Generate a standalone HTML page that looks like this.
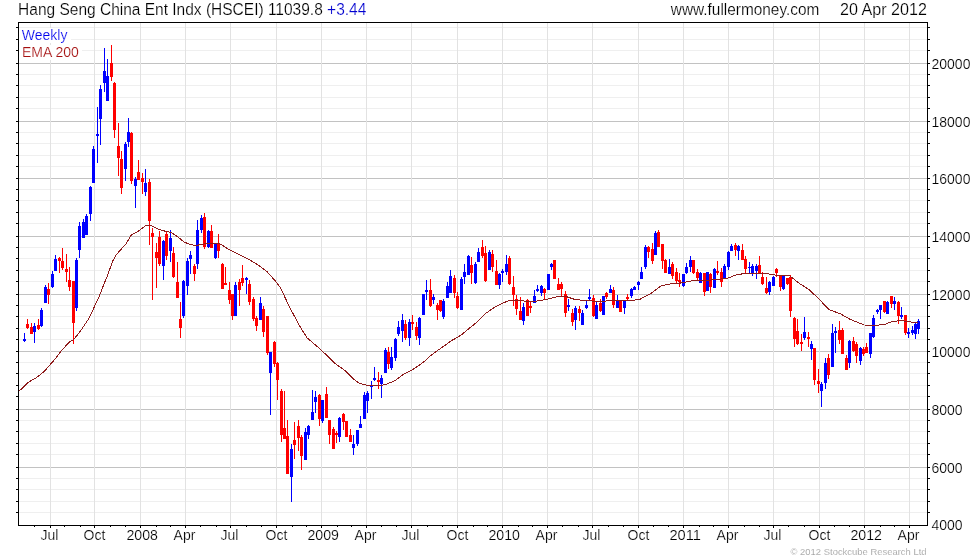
<!DOCTYPE html><html><head><meta charset="utf-8"><title>HSCEI Weekly</title>
<style>html,body{margin:0;padding:0;background:#fff}svg{display:block}text{font-family:"Liberation Sans",sans-serif;stroke:#fff;stroke-width:0.2px;paint-order:fill stroke}</style></head><body>
<svg width="980" height="560" viewBox="0 0 980 560">
<rect width="980" height="560" fill="#fff"/>
<g shape-rendering="crispEdges">
<rect x="19" y="27" width="908" height="1" fill="#efefef"/>
<rect x="16" y="27" width="2" height="1" fill="#000"/>
<rect x="928" y="27" width="2" height="1" fill="#000"/>
<rect x="19" y="39" width="908" height="1" fill="#efefef"/>
<rect x="16" y="39" width="2" height="1" fill="#000"/>
<rect x="928" y="39" width="2" height="1" fill="#000"/>
<rect x="19" y="50" width="908" height="1" fill="#efefef"/>
<rect x="16" y="50" width="2" height="1" fill="#000"/>
<rect x="928" y="50" width="2" height="1" fill="#000"/>
<rect x="19" y="63" width="908" height="1" fill="#c2c2c2"/>
<rect x="16" y="63" width="2" height="1" fill="#000"/>
<rect x="928" y="63" width="2" height="1" fill="#000"/>
<rect x="19" y="74" width="908" height="1" fill="#efefef"/>
<rect x="16" y="74" width="2" height="1" fill="#000"/>
<rect x="928" y="74" width="2" height="1" fill="#000"/>
<rect x="19" y="85" width="908" height="1" fill="#efefef"/>
<rect x="16" y="85" width="2" height="1" fill="#000"/>
<rect x="928" y="85" width="2" height="1" fill="#000"/>
<rect x="19" y="97" width="908" height="1" fill="#efefef"/>
<rect x="16" y="97" width="2" height="1" fill="#000"/>
<rect x="928" y="97" width="2" height="1" fill="#000"/>
<rect x="19" y="108" width="908" height="1" fill="#efefef"/>
<rect x="16" y="108" width="2" height="1" fill="#000"/>
<rect x="928" y="108" width="2" height="1" fill="#000"/>
<rect x="19" y="121" width="908" height="1" fill="#c2c2c2"/>
<rect x="16" y="121" width="2" height="1" fill="#000"/>
<rect x="928" y="121" width="2" height="1" fill="#000"/>
<rect x="19" y="132" width="908" height="1" fill="#efefef"/>
<rect x="16" y="132" width="2" height="1" fill="#000"/>
<rect x="928" y="132" width="2" height="1" fill="#000"/>
<rect x="19" y="143" width="908" height="1" fill="#efefef"/>
<rect x="16" y="143" width="2" height="1" fill="#000"/>
<rect x="928" y="143" width="2" height="1" fill="#000"/>
<rect x="19" y="155" width="908" height="1" fill="#efefef"/>
<rect x="16" y="155" width="2" height="1" fill="#000"/>
<rect x="928" y="155" width="2" height="1" fill="#000"/>
<rect x="19" y="166" width="908" height="1" fill="#efefef"/>
<rect x="16" y="166" width="2" height="1" fill="#000"/>
<rect x="928" y="166" width="2" height="1" fill="#000"/>
<rect x="19" y="178" width="908" height="1" fill="#c2c2c2"/>
<rect x="16" y="178" width="2" height="1" fill="#000"/>
<rect x="928" y="178" width="2" height="1" fill="#000"/>
<rect x="19" y="189" width="908" height="1" fill="#efefef"/>
<rect x="16" y="189" width="2" height="1" fill="#000"/>
<rect x="928" y="189" width="2" height="1" fill="#000"/>
<rect x="19" y="200" width="908" height="1" fill="#efefef"/>
<rect x="16" y="200" width="2" height="1" fill="#000"/>
<rect x="928" y="200" width="2" height="1" fill="#000"/>
<rect x="19" y="212" width="908" height="1" fill="#efefef"/>
<rect x="16" y="212" width="2" height="1" fill="#000"/>
<rect x="928" y="212" width="2" height="1" fill="#000"/>
<rect x="19" y="223" width="908" height="1" fill="#efefef"/>
<rect x="16" y="223" width="2" height="1" fill="#000"/>
<rect x="928" y="223" width="2" height="1" fill="#000"/>
<rect x="19" y="236" width="908" height="1" fill="#c2c2c2"/>
<rect x="16" y="236" width="2" height="1" fill="#000"/>
<rect x="928" y="236" width="2" height="1" fill="#000"/>
<rect x="19" y="247" width="908" height="1" fill="#efefef"/>
<rect x="16" y="247" width="2" height="1" fill="#000"/>
<rect x="928" y="247" width="2" height="1" fill="#000"/>
<rect x="19" y="258" width="908" height="1" fill="#efefef"/>
<rect x="16" y="258" width="2" height="1" fill="#000"/>
<rect x="928" y="258" width="2" height="1" fill="#000"/>
<rect x="19" y="270" width="908" height="1" fill="#efefef"/>
<rect x="16" y="270" width="2" height="1" fill="#000"/>
<rect x="928" y="270" width="2" height="1" fill="#000"/>
<rect x="19" y="281" width="908" height="1" fill="#efefef"/>
<rect x="16" y="281" width="2" height="1" fill="#000"/>
<rect x="928" y="281" width="2" height="1" fill="#000"/>
<rect x="19" y="294" width="908" height="1" fill="#c2c2c2"/>
<rect x="16" y="294" width="2" height="1" fill="#000"/>
<rect x="928" y="294" width="2" height="1" fill="#000"/>
<rect x="19" y="305" width="908" height="1" fill="#efefef"/>
<rect x="16" y="305" width="2" height="1" fill="#000"/>
<rect x="928" y="305" width="2" height="1" fill="#000"/>
<rect x="19" y="316" width="908" height="1" fill="#efefef"/>
<rect x="16" y="316" width="2" height="1" fill="#000"/>
<rect x="928" y="316" width="2" height="1" fill="#000"/>
<rect x="19" y="328" width="908" height="1" fill="#efefef"/>
<rect x="16" y="328" width="2" height="1" fill="#000"/>
<rect x="928" y="328" width="2" height="1" fill="#000"/>
<rect x="19" y="339" width="908" height="1" fill="#efefef"/>
<rect x="16" y="339" width="2" height="1" fill="#000"/>
<rect x="928" y="339" width="2" height="1" fill="#000"/>
<rect x="19" y="351" width="908" height="1" fill="#c2c2c2"/>
<rect x="16" y="351" width="2" height="1" fill="#000"/>
<rect x="928" y="351" width="2" height="1" fill="#000"/>
<rect x="19" y="362" width="908" height="1" fill="#efefef"/>
<rect x="16" y="362" width="2" height="1" fill="#000"/>
<rect x="928" y="362" width="2" height="1" fill="#000"/>
<rect x="19" y="373" width="908" height="1" fill="#efefef"/>
<rect x="16" y="373" width="2" height="1" fill="#000"/>
<rect x="928" y="373" width="2" height="1" fill="#000"/>
<rect x="19" y="385" width="908" height="1" fill="#efefef"/>
<rect x="16" y="385" width="2" height="1" fill="#000"/>
<rect x="928" y="385" width="2" height="1" fill="#000"/>
<rect x="19" y="396" width="908" height="1" fill="#efefef"/>
<rect x="16" y="396" width="2" height="1" fill="#000"/>
<rect x="928" y="396" width="2" height="1" fill="#000"/>
<rect x="19" y="409" width="908" height="1" fill="#c2c2c2"/>
<rect x="16" y="409" width="2" height="1" fill="#000"/>
<rect x="928" y="409" width="2" height="1" fill="#000"/>
<rect x="19" y="420" width="908" height="1" fill="#efefef"/>
<rect x="16" y="420" width="2" height="1" fill="#000"/>
<rect x="928" y="420" width="2" height="1" fill="#000"/>
<rect x="19" y="431" width="908" height="1" fill="#efefef"/>
<rect x="16" y="431" width="2" height="1" fill="#000"/>
<rect x="928" y="431" width="2" height="1" fill="#000"/>
<rect x="19" y="443" width="908" height="1" fill="#efefef"/>
<rect x="16" y="443" width="2" height="1" fill="#000"/>
<rect x="928" y="443" width="2" height="1" fill="#000"/>
<rect x="19" y="454" width="908" height="1" fill="#efefef"/>
<rect x="16" y="454" width="2" height="1" fill="#000"/>
<rect x="928" y="454" width="2" height="1" fill="#000"/>
<rect x="19" y="467" width="908" height="1" fill="#c2c2c2"/>
<rect x="16" y="467" width="2" height="1" fill="#000"/>
<rect x="928" y="467" width="2" height="1" fill="#000"/>
<rect x="19" y="478" width="908" height="1" fill="#efefef"/>
<rect x="16" y="478" width="2" height="1" fill="#000"/>
<rect x="928" y="478" width="2" height="1" fill="#000"/>
<rect x="19" y="489" width="908" height="1" fill="#efefef"/>
<rect x="16" y="489" width="2" height="1" fill="#000"/>
<rect x="928" y="489" width="2" height="1" fill="#000"/>
<rect x="19" y="501" width="908" height="1" fill="#efefef"/>
<rect x="16" y="501" width="2" height="1" fill="#000"/>
<rect x="928" y="501" width="2" height="1" fill="#000"/>
<rect x="19" y="512" width="908" height="1" fill="#efefef"/>
<rect x="16" y="512" width="2" height="1" fill="#000"/>
<rect x="928" y="512" width="2" height="1" fill="#000"/>
<rect x="50" y="23" width="1" height="502" fill="#e2e2e2"/>
<rect x="94" y="23" width="1" height="502" fill="#e2e2e2"/>
<rect x="140" y="23" width="1" height="502" fill="#e2e2e2"/>
<rect x="185" y="23" width="1" height="502" fill="#e2e2e2"/>
<rect x="230" y="23" width="1" height="502" fill="#e2e2e2"/>
<rect x="276" y="23" width="1" height="502" fill="#e2e2e2"/>
<rect x="321" y="23" width="1" height="502" fill="#e2e2e2"/>
<rect x="366" y="23" width="1" height="502" fill="#e2e2e2"/>
<rect x="411" y="23" width="1" height="502" fill="#e2e2e2"/>
<rect x="457" y="23" width="1" height="502" fill="#e2e2e2"/>
<rect x="502" y="23" width="1" height="502" fill="#e2e2e2"/>
<rect x="547" y="23" width="1" height="502" fill="#e2e2e2"/>
<rect x="592" y="23" width="1" height="502" fill="#e2e2e2"/>
<rect x="638" y="23" width="1" height="502" fill="#e2e2e2"/>
<rect x="683" y="23" width="1" height="502" fill="#e2e2e2"/>
<rect x="728" y="23" width="1" height="502" fill="#e2e2e2"/>
<rect x="773" y="23" width="1" height="502" fill="#e2e2e2"/>
<rect x="819" y="23" width="1" height="502" fill="#e2e2e2"/>
<rect x="864" y="23" width="1" height="502" fill="#e2e2e2"/>
<rect x="909" y="23" width="1" height="502" fill="#e2e2e2"/>
<rect x="34" y="526" width="1" height="1" fill="#000"/>
<rect x="50" y="526" width="1" height="2" fill="#000"/>
<rect x="64" y="526" width="1" height="1" fill="#000"/>
<rect x="80" y="526" width="1" height="1" fill="#000"/>
<rect x="94" y="526" width="1" height="2" fill="#000"/>
<rect x="110" y="526" width="1" height="1" fill="#000"/>
<rect x="125" y="526" width="1" height="1" fill="#000"/>
<rect x="140" y="526" width="1" height="2" fill="#000"/>
<rect x="156" y="526" width="1" height="1" fill="#000"/>
<rect x="170" y="526" width="1" height="1" fill="#000"/>
<rect x="185" y="526" width="1" height="2" fill="#000"/>
<rect x="200" y="526" width="1" height="1" fill="#000"/>
<rect x="216" y="526" width="1" height="1" fill="#000"/>
<rect x="230" y="526" width="1" height="2" fill="#000"/>
<rect x="246" y="526" width="1" height="1" fill="#000"/>
<rect x="261" y="526" width="1" height="1" fill="#000"/>
<rect x="276" y="526" width="1" height="2" fill="#000"/>
<rect x="292" y="526" width="1" height="1" fill="#000"/>
<rect x="306" y="526" width="1" height="1" fill="#000"/>
<rect x="321" y="526" width="1" height="2" fill="#000"/>
<rect x="337" y="526" width="1" height="1" fill="#000"/>
<rect x="351" y="526" width="1" height="1" fill="#000"/>
<rect x="366" y="526" width="1" height="2" fill="#000"/>
<rect x="381" y="526" width="1" height="1" fill="#000"/>
<rect x="396" y="526" width="1" height="1" fill="#000"/>
<rect x="411" y="526" width="1" height="2" fill="#000"/>
<rect x="427" y="526" width="1" height="1" fill="#000"/>
<rect x="442" y="526" width="1" height="1" fill="#000"/>
<rect x="457" y="526" width="1" height="2" fill="#000"/>
<rect x="473" y="526" width="1" height="1" fill="#000"/>
<rect x="487" y="526" width="1" height="1" fill="#000"/>
<rect x="502" y="526" width="1" height="2" fill="#000"/>
<rect x="518" y="526" width="1" height="1" fill="#000"/>
<rect x="532" y="526" width="1" height="1" fill="#000"/>
<rect x="547" y="526" width="1" height="2" fill="#000"/>
<rect x="562" y="526" width="1" height="1" fill="#000"/>
<rect x="578" y="526" width="1" height="1" fill="#000"/>
<rect x="592" y="526" width="1" height="2" fill="#000"/>
<rect x="608" y="526" width="1" height="1" fill="#000"/>
<rect x="623" y="526" width="1" height="1" fill="#000"/>
<rect x="638" y="526" width="1" height="2" fill="#000"/>
<rect x="653" y="526" width="1" height="1" fill="#000"/>
<rect x="668" y="526" width="1" height="1" fill="#000"/>
<rect x="683" y="526" width="1" height="2" fill="#000"/>
<rect x="699" y="526" width="1" height="1" fill="#000"/>
<rect x="713" y="526" width="1" height="1" fill="#000"/>
<rect x="728" y="526" width="1" height="2" fill="#000"/>
<rect x="744" y="526" width="1" height="1" fill="#000"/>
<rect x="759" y="526" width="1" height="1" fill="#000"/>
<rect x="773" y="526" width="1" height="2" fill="#000"/>
<rect x="788" y="526" width="1" height="1" fill="#000"/>
<rect x="804" y="526" width="1" height="1" fill="#000"/>
<rect x="819" y="526" width="1" height="2" fill="#000"/>
<rect x="834" y="526" width="1" height="1" fill="#000"/>
<rect x="849" y="526" width="1" height="1" fill="#000"/>
<rect x="864" y="526" width="1" height="2" fill="#000"/>
<rect x="880" y="526" width="1" height="1" fill="#000"/>
<rect x="894" y="526" width="1" height="1" fill="#000"/>
<rect x="909" y="526" width="1" height="2" fill="#000"/>
</g>
<g shape-rendering="crispEdges">
<rect x="24" y="333" width="1" height="9" fill="#0000ff"/>
<rect x="23" y="339" width="3" height="2" fill="#0000ff"/>
<rect x="27" y="319" width="1" height="10" fill="#ff0000"/>
<rect x="26" y="324" width="3" height="4" fill="#ff0000"/>
<rect x="31" y="323" width="1" height="11" fill="#ff0000"/>
<rect x="30" y="327" width="3" height="7" fill="#ff0000"/>
<rect x="34" y="323" width="1" height="20" fill="#0000ff"/>
<rect x="33" y="326" width="3" height="6" fill="#0000ff"/>
<rect x="38" y="319" width="1" height="11" fill="#ff0000"/>
<rect x="37" y="325" width="3" height="4" fill="#ff0000"/>
<rect x="41" y="308" width="1" height="19" fill="#0000ff"/>
<rect x="40" y="310" width="3" height="16" fill="#0000ff"/>
<rect x="45" y="285" width="1" height="18" fill="#0000ff"/>
<rect x="44" y="287" width="3" height="16" fill="#0000ff"/>
<rect x="48" y="283" width="1" height="21" fill="#ff0000"/>
<rect x="47" y="289" width="3" height="6" fill="#ff0000"/>
<rect x="52" y="271" width="1" height="17" fill="#0000ff"/>
<rect x="51" y="274" width="3" height="13" fill="#0000ff"/>
<rect x="55" y="255" width="1" height="16" fill="#0000ff"/>
<rect x="54" y="259" width="3" height="12" fill="#0000ff"/>
<rect x="59" y="257" width="1" height="16" fill="#ff0000"/>
<rect x="58" y="258" width="3" height="3" fill="#ff0000"/>
<rect x="62" y="248" width="1" height="22" fill="#ff0000"/>
<rect x="61" y="261" width="3" height="7" fill="#ff0000"/>
<rect x="66" y="254" width="1" height="28" fill="#ff0000"/>
<rect x="65" y="269" width="3" height="3" fill="#ff0000"/>
<rect x="69" y="267" width="1" height="24" fill="#ff0000"/>
<rect x="68" y="280" width="3" height="7" fill="#ff0000"/>
<rect x="73" y="281" width="1" height="63" fill="#ff0000"/>
<rect x="72" y="281" width="3" height="42" fill="#ff0000"/>
<rect x="76" y="258" width="1" height="53" fill="#0000ff"/>
<rect x="75" y="260" width="3" height="48" fill="#0000ff"/>
<rect x="79" y="222" width="1" height="36" fill="#0000ff"/>
<rect x="78" y="226" width="3" height="24" fill="#0000ff"/>
<rect x="83" y="219" width="1" height="19" fill="#0000ff"/>
<rect x="82" y="222" width="3" height="16" fill="#0000ff"/>
<rect x="86" y="214" width="1" height="21" fill="#0000ff"/>
<rect x="85" y="216" width="3" height="19" fill="#0000ff"/>
<rect x="90" y="186" width="1" height="35" fill="#0000ff"/>
<rect x="89" y="187" width="3" height="27" fill="#0000ff"/>
<rect x="93" y="146" width="1" height="37" fill="#0000ff"/>
<rect x="92" y="149" width="3" height="34" fill="#0000ff"/>
<rect x="97" y="107" width="1" height="56" fill="#0000ff"/>
<rect x="96" y="134" width="3" height="2" fill="#0000ff"/>
<rect x="100" y="85" width="1" height="60" fill="#0000ff"/>
<rect x="99" y="89" width="3" height="30" fill="#0000ff"/>
<rect x="104" y="48" width="1" height="44" fill="#0000ff"/>
<rect x="103" y="71" width="3" height="12" fill="#0000ff"/>
<rect x="107" y="59" width="1" height="42" fill="#0000ff"/>
<rect x="106" y="76" width="3" height="25" fill="#0000ff"/>
<rect x="111" y="45" width="1" height="36" fill="#ff0000"/>
<rect x="110" y="63" width="3" height="14" fill="#ff0000"/>
<rect x="114" y="82" width="1" height="56" fill="#ff0000"/>
<rect x="113" y="83" width="3" height="47" fill="#ff0000"/>
<rect x="118" y="123" width="1" height="53" fill="#ff0000"/>
<rect x="117" y="146" width="3" height="12" fill="#ff0000"/>
<rect x="121" y="151" width="1" height="43" fill="#ff0000"/>
<rect x="120" y="159" width="3" height="29" fill="#ff0000"/>
<rect x="125" y="142" width="1" height="39" fill="#0000ff"/>
<rect x="124" y="144" width="3" height="25" fill="#0000ff"/>
<rect x="128" y="118" width="1" height="29" fill="#0000ff"/>
<rect x="127" y="132" width="3" height="10" fill="#0000ff"/>
<rect x="131" y="132" width="1" height="52" fill="#ff0000"/>
<rect x="130" y="133" width="3" height="48" fill="#ff0000"/>
<rect x="135" y="177" width="1" height="31" fill="#0000ff"/>
<rect x="134" y="179" width="3" height="7" fill="#0000ff"/>
<rect x="138" y="160" width="1" height="20" fill="#ff0000"/>
<rect x="137" y="172" width="3" height="8" fill="#ff0000"/>
<rect x="142" y="173" width="1" height="21" fill="#ff0000"/>
<rect x="141" y="178" width="3" height="4" fill="#ff0000"/>
<rect x="145" y="169" width="1" height="27" fill="#0000ff"/>
<rect x="144" y="183" width="3" height="9" fill="#0000ff"/>
<rect x="149" y="179" width="1" height="66" fill="#ff0000"/>
<rect x="148" y="182" width="3" height="39" fill="#ff0000"/>
<rect x="152" y="228" width="1" height="72" fill="#ff0000"/>
<rect x="151" y="233" width="3" height="4" fill="#ff0000"/>
<rect x="156" y="243" width="1" height="45" fill="#ff0000"/>
<rect x="155" y="252" width="3" height="6" fill="#ff0000"/>
<rect x="159" y="231" width="1" height="35" fill="#ff0000"/>
<rect x="158" y="237" width="3" height="27" fill="#ff0000"/>
<rect x="163" y="240" width="1" height="40" fill="#0000ff"/>
<rect x="162" y="241" width="3" height="25" fill="#0000ff"/>
<rect x="166" y="232" width="1" height="28" fill="#ff0000"/>
<rect x="165" y="234" width="3" height="22" fill="#ff0000"/>
<rect x="170" y="230" width="1" height="32" fill="#0000ff"/>
<rect x="169" y="238" width="3" height="13" fill="#0000ff"/>
<rect x="173" y="247" width="1" height="31" fill="#ff0000"/>
<rect x="172" y="253" width="3" height="24" fill="#ff0000"/>
<rect x="177" y="262" width="1" height="36" fill="#ff0000"/>
<rect x="176" y="282" width="3" height="16" fill="#ff0000"/>
<rect x="180" y="302" width="1" height="36" fill="#ff0000"/>
<rect x="179" y="319" width="3" height="9" fill="#ff0000"/>
<rect x="183" y="280" width="1" height="38" fill="#0000ff"/>
<rect x="182" y="281" width="3" height="35" fill="#0000ff"/>
<rect x="187" y="258" width="1" height="37" fill="#0000ff"/>
<rect x="186" y="261" width="3" height="25" fill="#0000ff"/>
<rect x="190" y="251" width="1" height="23" fill="#0000ff"/>
<rect x="189" y="255" width="3" height="4" fill="#0000ff"/>
<rect x="194" y="264" width="1" height="17" fill="#ff0000"/>
<rect x="193" y="266" width="3" height="8" fill="#ff0000"/>
<rect x="197" y="220" width="1" height="49" fill="#0000ff"/>
<rect x="196" y="230" width="3" height="34" fill="#0000ff"/>
<rect x="201" y="215" width="1" height="18" fill="#0000ff"/>
<rect x="200" y="218" width="3" height="12" fill="#0000ff"/>
<rect x="204" y="213" width="1" height="36" fill="#ff0000"/>
<rect x="203" y="217" width="3" height="30" fill="#ff0000"/>
<rect x="208" y="230" width="1" height="18" fill="#0000ff"/>
<rect x="207" y="231" width="3" height="16" fill="#0000ff"/>
<rect x="211" y="225" width="1" height="23" fill="#ff0000"/>
<rect x="210" y="231" width="3" height="17" fill="#ff0000"/>
<rect x="215" y="243" width="1" height="16" fill="#0000ff"/>
<rect x="214" y="244" width="3" height="14" fill="#0000ff"/>
<rect x="218" y="234" width="1" height="24" fill="#ff0000"/>
<rect x="217" y="243" width="3" height="8" fill="#ff0000"/>
<rect x="222" y="263" width="1" height="26" fill="#ff0000"/>
<rect x="221" y="264" width="3" height="25" fill="#ff0000"/>
<rect x="225" y="267" width="1" height="18" fill="#ff0000"/>
<rect x="224" y="283" width="3" height="2" fill="#ff0000"/>
<rect x="229" y="282" width="1" height="22" fill="#ff0000"/>
<rect x="228" y="290" width="3" height="10" fill="#ff0000"/>
<rect x="232" y="294" width="1" height="26" fill="#ff0000"/>
<rect x="231" y="294" width="3" height="22" fill="#ff0000"/>
<rect x="235" y="282" width="1" height="34" fill="#0000ff"/>
<rect x="234" y="285" width="3" height="31" fill="#0000ff"/>
<rect x="239" y="279" width="1" height="27" fill="#ff0000"/>
<rect x="238" y="282" width="3" height="8" fill="#ff0000"/>
<rect x="242" y="265" width="1" height="21" fill="#ff0000"/>
<rect x="241" y="278" width="3" height="5" fill="#ff0000"/>
<rect x="246" y="277" width="1" height="17" fill="#0000ff"/>
<rect x="245" y="278" width="3" height="2" fill="#0000ff"/>
<rect x="249" y="280" width="1" height="25" fill="#ff0000"/>
<rect x="248" y="284" width="3" height="18" fill="#ff0000"/>
<rect x="253" y="297" width="1" height="24" fill="#ff0000"/>
<rect x="252" y="299" width="3" height="20" fill="#ff0000"/>
<rect x="256" y="316" width="1" height="15" fill="#ff0000"/>
<rect x="255" y="318" width="3" height="8" fill="#ff0000"/>
<rect x="260" y="297" width="1" height="23" fill="#0000ff"/>
<rect x="259" y="303" width="3" height="17" fill="#0000ff"/>
<rect x="263" y="306" width="1" height="31" fill="#ff0000"/>
<rect x="262" y="309" width="3" height="23" fill="#ff0000"/>
<rect x="267" y="316" width="1" height="39" fill="#ff0000"/>
<rect x="266" y="316" width="3" height="37" fill="#ff0000"/>
<rect x="270" y="352" width="1" height="63" fill="#0000ff"/>
<rect x="269" y="352" width="3" height="21" fill="#0000ff"/>
<rect x="274" y="341" width="1" height="26" fill="#ff0000"/>
<rect x="273" y="342" width="3" height="22" fill="#ff0000"/>
<rect x="277" y="362" width="1" height="38" fill="#ff0000"/>
<rect x="276" y="363" width="3" height="17" fill="#ff0000"/>
<rect x="281" y="389" width="1" height="53" fill="#ff0000"/>
<rect x="280" y="391" width="3" height="44" fill="#ff0000"/>
<rect x="284" y="391" width="1" height="48" fill="#ff0000"/>
<rect x="283" y="428" width="3" height="11" fill="#ff0000"/>
<rect x="287" y="420" width="1" height="54" fill="#ff0000"/>
<rect x="286" y="436" width="3" height="38" fill="#ff0000"/>
<rect x="291" y="444" width="1" height="58" fill="#0000ff"/>
<rect x="290" y="449" width="3" height="28" fill="#0000ff"/>
<rect x="294" y="422" width="1" height="37" fill="#ff0000"/>
<rect x="293" y="440" width="3" height="5" fill="#ff0000"/>
<rect x="298" y="420" width="1" height="31" fill="#ff0000"/>
<rect x="297" y="426" width="3" height="12" fill="#ff0000"/>
<rect x="301" y="435" width="1" height="35" fill="#ff0000"/>
<rect x="300" y="437" width="3" height="19" fill="#ff0000"/>
<rect x="305" y="428" width="1" height="32" fill="#0000ff"/>
<rect x="304" y="432" width="3" height="28" fill="#0000ff"/>
<rect x="308" y="425" width="1" height="14" fill="#0000ff"/>
<rect x="307" y="426" width="3" height="9" fill="#0000ff"/>
<rect x="312" y="390" width="1" height="30" fill="#0000ff"/>
<rect x="311" y="412" width="3" height="8" fill="#0000ff"/>
<rect x="315" y="391" width="1" height="22" fill="#0000ff"/>
<rect x="314" y="397" width="3" height="5" fill="#0000ff"/>
<rect x="319" y="394" width="1" height="32" fill="#ff0000"/>
<rect x="318" y="395" width="3" height="24" fill="#ff0000"/>
<rect x="322" y="400" width="1" height="23" fill="#0000ff"/>
<rect x="321" y="400" width="3" height="21" fill="#0000ff"/>
<rect x="326" y="387" width="1" height="31" fill="#ff0000"/>
<rect x="325" y="394" width="3" height="24" fill="#ff0000"/>
<rect x="329" y="420" width="1" height="24" fill="#ff0000"/>
<rect x="328" y="420" width="3" height="15" fill="#ff0000"/>
<rect x="333" y="427" width="1" height="22" fill="#ff0000"/>
<rect x="332" y="429" width="3" height="20" fill="#ff0000"/>
<rect x="336" y="431" width="1" height="12" fill="#ff0000"/>
<rect x="335" y="433" width="3" height="2" fill="#ff0000"/>
<rect x="339" y="417" width="1" height="25" fill="#0000ff"/>
<rect x="338" y="418" width="3" height="19" fill="#0000ff"/>
<rect x="343" y="413" width="1" height="17" fill="#ff0000"/>
<rect x="342" y="414" width="3" height="8" fill="#ff0000"/>
<rect x="346" y="421" width="1" height="16" fill="#ff0000"/>
<rect x="345" y="421" width="3" height="16" fill="#ff0000"/>
<rect x="350" y="429" width="1" height="13" fill="#ff0000"/>
<rect x="349" y="435" width="3" height="7" fill="#ff0000"/>
<rect x="353" y="435" width="1" height="20" fill="#0000ff"/>
<rect x="352" y="444" width="3" height="4" fill="#0000ff"/>
<rect x="357" y="430" width="1" height="16" fill="#0000ff"/>
<rect x="356" y="430" width="3" height="14" fill="#0000ff"/>
<rect x="360" y="416" width="1" height="12" fill="#0000ff"/>
<rect x="359" y="424" width="3" height="4" fill="#0000ff"/>
<rect x="364" y="392" width="1" height="27" fill="#0000ff"/>
<rect x="363" y="395" width="3" height="24" fill="#0000ff"/>
<rect x="367" y="391" width="1" height="22" fill="#0000ff"/>
<rect x="366" y="393" width="3" height="8" fill="#0000ff"/>
<rect x="371" y="381" width="1" height="18" fill="#0000ff"/>
<rect x="370" y="385" width="3" height="2" fill="#0000ff"/>
<rect x="374" y="367" width="1" height="14" fill="#0000ff"/>
<rect x="373" y="378" width="3" height="2" fill="#0000ff"/>
<rect x="378" y="372" width="1" height="17" fill="#ff0000"/>
<rect x="377" y="380" width="3" height="2" fill="#ff0000"/>
<rect x="381" y="375" width="1" height="23" fill="#0000ff"/>
<rect x="380" y="378" width="3" height="6" fill="#0000ff"/>
<rect x="385" y="348" width="1" height="25" fill="#0000ff"/>
<rect x="384" y="350" width="3" height="23" fill="#0000ff"/>
<rect x="388" y="347" width="1" height="22" fill="#ff0000"/>
<rect x="387" y="352" width="3" height="12" fill="#ff0000"/>
<rect x="391" y="347" width="1" height="23" fill="#0000ff"/>
<rect x="390" y="357" width="3" height="11" fill="#0000ff"/>
<rect x="395" y="338" width="1" height="23" fill="#0000ff"/>
<rect x="394" y="339" width="3" height="19" fill="#0000ff"/>
<rect x="398" y="321" width="1" height="15" fill="#0000ff"/>
<rect x="397" y="327" width="3" height="7" fill="#0000ff"/>
<rect x="402" y="314" width="1" height="28" fill="#0000ff"/>
<rect x="401" y="320" width="3" height="11" fill="#0000ff"/>
<rect x="405" y="320" width="1" height="20" fill="#ff0000"/>
<rect x="404" y="324" width="3" height="14" fill="#ff0000"/>
<rect x="409" y="319" width="1" height="27" fill="#0000ff"/>
<rect x="408" y="322" width="3" height="16" fill="#0000ff"/>
<rect x="412" y="315" width="1" height="15" fill="#ff0000"/>
<rect x="411" y="322" width="3" height="2" fill="#ff0000"/>
<rect x="416" y="322" width="1" height="18" fill="#ff0000"/>
<rect x="415" y="327" width="3" height="9" fill="#ff0000"/>
<rect x="419" y="317" width="1" height="28" fill="#0000ff"/>
<rect x="418" y="318" width="3" height="20" fill="#0000ff"/>
<rect x="423" y="294" width="1" height="21" fill="#0000ff"/>
<rect x="422" y="294" width="3" height="21" fill="#0000ff"/>
<rect x="426" y="280" width="1" height="20" fill="#0000ff"/>
<rect x="425" y="290" width="3" height="2" fill="#0000ff"/>
<rect x="430" y="279" width="1" height="28" fill="#ff0000"/>
<rect x="429" y="290" width="3" height="16" fill="#ff0000"/>
<rect x="433" y="294" width="1" height="10" fill="#0000ff"/>
<rect x="432" y="297" width="3" height="3" fill="#0000ff"/>
<rect x="437" y="303" width="1" height="17" fill="#ff0000"/>
<rect x="436" y="305" width="3" height="5" fill="#ff0000"/>
<rect x="440" y="300" width="1" height="12" fill="#ff0000"/>
<rect x="439" y="300" width="3" height="11" fill="#ff0000"/>
<rect x="443" y="299" width="1" height="20" fill="#0000ff"/>
<rect x="442" y="301" width="3" height="16" fill="#0000ff"/>
<rect x="447" y="282" width="1" height="16" fill="#0000ff"/>
<rect x="446" y="286" width="3" height="12" fill="#0000ff"/>
<rect x="450" y="270" width="1" height="23" fill="#0000ff"/>
<rect x="449" y="276" width="3" height="17" fill="#0000ff"/>
<rect x="454" y="275" width="1" height="23" fill="#ff0000"/>
<rect x="453" y="278" width="3" height="15" fill="#ff0000"/>
<rect x="457" y="292" width="1" height="17" fill="#ff0000"/>
<rect x="456" y="296" width="3" height="12" fill="#ff0000"/>
<rect x="461" y="277" width="1" height="33" fill="#0000ff"/>
<rect x="460" y="279" width="3" height="31" fill="#0000ff"/>
<rect x="464" y="264" width="1" height="20" fill="#0000ff"/>
<rect x="463" y="272" width="3" height="5" fill="#0000ff"/>
<rect x="468" y="255" width="1" height="20" fill="#0000ff"/>
<rect x="467" y="256" width="3" height="19" fill="#0000ff"/>
<rect x="471" y="257" width="1" height="27" fill="#ff0000"/>
<rect x="470" y="265" width="3" height="8" fill="#ff0000"/>
<rect x="475" y="262" width="1" height="22" fill="#0000ff"/>
<rect x="474" y="264" width="3" height="19" fill="#0000ff"/>
<rect x="478" y="248" width="1" height="14" fill="#0000ff"/>
<rect x="477" y="252" width="3" height="10" fill="#0000ff"/>
<rect x="482" y="240" width="1" height="18" fill="#ff0000"/>
<rect x="481" y="247" width="3" height="9" fill="#ff0000"/>
<rect x="485" y="246" width="1" height="36" fill="#ff0000"/>
<rect x="484" y="253" width="3" height="28" fill="#ff0000"/>
<rect x="489" y="250" width="1" height="20" fill="#0000ff"/>
<rect x="488" y="252" width="3" height="18" fill="#0000ff"/>
<rect x="492" y="250" width="1" height="22" fill="#ff0000"/>
<rect x="491" y="254" width="3" height="13" fill="#ff0000"/>
<rect x="496" y="260" width="1" height="25" fill="#ff0000"/>
<rect x="495" y="271" width="3" height="14" fill="#ff0000"/>
<rect x="499" y="273" width="1" height="16" fill="#0000ff"/>
<rect x="498" y="274" width="3" height="11" fill="#0000ff"/>
<rect x="502" y="269" width="1" height="13" fill="#0000ff"/>
<rect x="501" y="271" width="3" height="2" fill="#0000ff"/>
<rect x="506" y="255" width="1" height="20" fill="#0000ff"/>
<rect x="505" y="264" width="3" height="8" fill="#0000ff"/>
<rect x="509" y="256" width="1" height="29" fill="#ff0000"/>
<rect x="508" y="258" width="3" height="26" fill="#ff0000"/>
<rect x="513" y="276" width="1" height="30" fill="#ff0000"/>
<rect x="512" y="287" width="3" height="8" fill="#ff0000"/>
<rect x="516" y="295" width="1" height="20" fill="#ff0000"/>
<rect x="515" y="299" width="3" height="10" fill="#ff0000"/>
<rect x="520" y="297" width="1" height="23" fill="#ff0000"/>
<rect x="519" y="311" width="3" height="9" fill="#ff0000"/>
<rect x="523" y="303" width="1" height="22" fill="#0000ff"/>
<rect x="522" y="307" width="3" height="14" fill="#0000ff"/>
<rect x="527" y="299" width="1" height="17" fill="#ff0000"/>
<rect x="526" y="300" width="3" height="16" fill="#ff0000"/>
<rect x="530" y="302" width="1" height="11" fill="#ff0000"/>
<rect x="529" y="306" width="3" height="2" fill="#ff0000"/>
<rect x="534" y="290" width="1" height="13" fill="#0000ff"/>
<rect x="533" y="296" width="3" height="7" fill="#0000ff"/>
<rect x="537" y="285" width="1" height="7" fill="#0000ff"/>
<rect x="536" y="289" width="3" height="2" fill="#0000ff"/>
<rect x="541" y="285" width="1" height="11" fill="#0000ff"/>
<rect x="540" y="286" width="3" height="7" fill="#0000ff"/>
<rect x="544" y="288" width="1" height="12" fill="#ff0000"/>
<rect x="543" y="289" width="3" height="4" fill="#ff0000"/>
<rect x="548" y="274" width="1" height="16" fill="#0000ff"/>
<rect x="547" y="274" width="3" height="16" fill="#0000ff"/>
<rect x="551" y="263" width="1" height="7" fill="#0000ff"/>
<rect x="550" y="264" width="3" height="3" fill="#0000ff"/>
<rect x="554" y="260" width="1" height="19" fill="#ff0000"/>
<rect x="553" y="260" width="3" height="19" fill="#ff0000"/>
<rect x="558" y="278" width="1" height="12" fill="#ff0000"/>
<rect x="557" y="284" width="3" height="6" fill="#ff0000"/>
<rect x="561" y="282" width="1" height="14" fill="#ff0000"/>
<rect x="560" y="284" width="3" height="5" fill="#ff0000"/>
<rect x="565" y="291" width="1" height="26" fill="#ff0000"/>
<rect x="564" y="294" width="3" height="19" fill="#ff0000"/>
<rect x="568" y="299" width="1" height="12" fill="#0000ff"/>
<rect x="567" y="305" width="3" height="2" fill="#0000ff"/>
<rect x="572" y="309" width="1" height="17" fill="#ff0000"/>
<rect x="571" y="313" width="3" height="9" fill="#ff0000"/>
<rect x="575" y="306" width="1" height="24" fill="#0000ff"/>
<rect x="574" y="308" width="3" height="12" fill="#0000ff"/>
<rect x="579" y="306" width="1" height="15" fill="#ff0000"/>
<rect x="578" y="309" width="3" height="4" fill="#ff0000"/>
<rect x="582" y="310" width="1" height="15" fill="#0000ff"/>
<rect x="581" y="313" width="3" height="12" fill="#0000ff"/>
<rect x="586" y="301" width="1" height="8" fill="#0000ff"/>
<rect x="585" y="305" width="3" height="3" fill="#0000ff"/>
<rect x="589" y="289" width="1" height="11" fill="#0000ff"/>
<rect x="588" y="297" width="3" height="2" fill="#0000ff"/>
<rect x="593" y="295" width="1" height="22" fill="#ff0000"/>
<rect x="592" y="298" width="3" height="18" fill="#ff0000"/>
<rect x="596" y="301" width="1" height="18" fill="#0000ff"/>
<rect x="595" y="305" width="3" height="14" fill="#0000ff"/>
<rect x="600" y="299" width="1" height="13" fill="#ff0000"/>
<rect x="599" y="303" width="3" height="8" fill="#ff0000"/>
<rect x="603" y="296" width="1" height="19" fill="#0000ff"/>
<rect x="602" y="296" width="3" height="19" fill="#0000ff"/>
<rect x="606" y="292" width="1" height="7" fill="#ff0000"/>
<rect x="605" y="293" width="3" height="4" fill="#ff0000"/>
<rect x="610" y="285" width="1" height="8" fill="#0000ff"/>
<rect x="609" y="289" width="3" height="4" fill="#0000ff"/>
<rect x="613" y="287" width="1" height="21" fill="#ff0000"/>
<rect x="612" y="290" width="3" height="15" fill="#ff0000"/>
<rect x="617" y="295" width="1" height="13" fill="#0000ff"/>
<rect x="616" y="301" width="3" height="7" fill="#0000ff"/>
<rect x="620" y="300" width="1" height="12" fill="#ff0000"/>
<rect x="619" y="301" width="3" height="11" fill="#ff0000"/>
<rect x="624" y="300" width="1" height="14" fill="#0000ff"/>
<rect x="623" y="301" width="3" height="7" fill="#0000ff"/>
<rect x="627" y="294" width="1" height="7" fill="#ff0000"/>
<rect x="626" y="297" width="3" height="2" fill="#ff0000"/>
<rect x="631" y="288" width="1" height="10" fill="#0000ff"/>
<rect x="630" y="289" width="3" height="7" fill="#0000ff"/>
<rect x="634" y="286" width="1" height="4" fill="#0000ff"/>
<rect x="633" y="287" width="3" height="3" fill="#0000ff"/>
<rect x="638" y="281" width="1" height="9" fill="#0000ff"/>
<rect x="637" y="282" width="3" height="3" fill="#0000ff"/>
<rect x="641" y="267" width="1" height="12" fill="#0000ff"/>
<rect x="640" y="272" width="3" height="7" fill="#0000ff"/>
<rect x="645" y="245" width="1" height="24" fill="#0000ff"/>
<rect x="644" y="247" width="3" height="20" fill="#0000ff"/>
<rect x="648" y="246" width="1" height="12" fill="#ff0000"/>
<rect x="647" y="247" width="3" height="5" fill="#ff0000"/>
<rect x="652" y="243" width="1" height="21" fill="#ff0000"/>
<rect x="651" y="249" width="3" height="12" fill="#ff0000"/>
<rect x="655" y="231" width="1" height="24" fill="#0000ff"/>
<rect x="654" y="233" width="3" height="22" fill="#0000ff"/>
<rect x="658" y="230" width="1" height="17" fill="#ff0000"/>
<rect x="657" y="232" width="3" height="15" fill="#ff0000"/>
<rect x="662" y="244" width="1" height="25" fill="#ff0000"/>
<rect x="661" y="244" width="3" height="17" fill="#ff0000"/>
<rect x="665" y="259" width="1" height="14" fill="#ff0000"/>
<rect x="664" y="260" width="3" height="13" fill="#ff0000"/>
<rect x="669" y="259" width="1" height="15" fill="#0000ff"/>
<rect x="668" y="267" width="3" height="7" fill="#0000ff"/>
<rect x="672" y="262" width="1" height="17" fill="#ff0000"/>
<rect x="671" y="264" width="3" height="12" fill="#ff0000"/>
<rect x="676" y="268" width="1" height="15" fill="#ff0000"/>
<rect x="675" y="272" width="3" height="9" fill="#ff0000"/>
<rect x="679" y="273" width="1" height="14" fill="#ff0000"/>
<rect x="678" y="280" width="3" height="2" fill="#ff0000"/>
<rect x="683" y="274" width="1" height="13" fill="#0000ff"/>
<rect x="682" y="274" width="3" height="12" fill="#0000ff"/>
<rect x="686" y="263" width="1" height="11" fill="#0000ff"/>
<rect x="685" y="267" width="3" height="6" fill="#0000ff"/>
<rect x="690" y="256" width="1" height="16" fill="#0000ff"/>
<rect x="689" y="260" width="3" height="7" fill="#0000ff"/>
<rect x="693" y="260" width="1" height="14" fill="#ff0000"/>
<rect x="692" y="260" width="3" height="13" fill="#ff0000"/>
<rect x="697" y="269" width="1" height="11" fill="#ff0000"/>
<rect x="696" y="272" width="3" height="6" fill="#ff0000"/>
<rect x="700" y="272" width="1" height="11" fill="#0000ff"/>
<rect x="699" y="273" width="3" height="10" fill="#0000ff"/>
<rect x="704" y="273" width="1" height="23" fill="#ff0000"/>
<rect x="703" y="273" width="3" height="19" fill="#ff0000"/>
<rect x="707" y="272" width="1" height="19" fill="#0000ff"/>
<rect x="706" y="272" width="3" height="19" fill="#0000ff"/>
<rect x="710" y="273" width="1" height="20" fill="#ff0000"/>
<rect x="709" y="274" width="3" height="13" fill="#ff0000"/>
<rect x="714" y="268" width="1" height="20" fill="#0000ff"/>
<rect x="713" y="269" width="3" height="19" fill="#0000ff"/>
<rect x="717" y="261" width="1" height="14" fill="#ff0000"/>
<rect x="716" y="271" width="3" height="2" fill="#ff0000"/>
<rect x="721" y="268" width="1" height="19" fill="#ff0000"/>
<rect x="720" y="272" width="3" height="10" fill="#ff0000"/>
<rect x="724" y="264" width="1" height="15" fill="#0000ff"/>
<rect x="723" y="266" width="3" height="13" fill="#0000ff"/>
<rect x="728" y="251" width="1" height="19" fill="#0000ff"/>
<rect x="727" y="252" width="3" height="15" fill="#0000ff"/>
<rect x="731" y="244" width="1" height="7" fill="#0000ff"/>
<rect x="730" y="246" width="3" height="5" fill="#0000ff"/>
<rect x="735" y="243" width="1" height="13" fill="#ff0000"/>
<rect x="734" y="245" width="3" height="5" fill="#ff0000"/>
<rect x="738" y="245" width="1" height="15" fill="#0000ff"/>
<rect x="737" y="246" width="3" height="5" fill="#0000ff"/>
<rect x="742" y="244" width="1" height="16" fill="#ff0000"/>
<rect x="741" y="250" width="3" height="10" fill="#ff0000"/>
<rect x="745" y="256" width="1" height="17" fill="#ff0000"/>
<rect x="744" y="259" width="3" height="10" fill="#ff0000"/>
<rect x="749" y="262" width="1" height="11" fill="#0000ff"/>
<rect x="748" y="267" width="3" height="1" fill="#0000ff"/>
<rect x="752" y="264" width="1" height="12" fill="#0000ff"/>
<rect x="751" y="266" width="3" height="7" fill="#0000ff"/>
<rect x="756" y="264" width="1" height="15" fill="#0000ff"/>
<rect x="755" y="266" width="3" height="5" fill="#0000ff"/>
<rect x="759" y="256" width="1" height="18" fill="#ff0000"/>
<rect x="758" y="265" width="3" height="8" fill="#ff0000"/>
<rect x="762" y="272" width="1" height="13" fill="#ff0000"/>
<rect x="761" y="277" width="3" height="7" fill="#ff0000"/>
<rect x="766" y="277" width="1" height="17" fill="#ff0000"/>
<rect x="765" y="288" width="3" height="5" fill="#ff0000"/>
<rect x="769" y="281" width="1" height="14" fill="#0000ff"/>
<rect x="768" y="282" width="3" height="10" fill="#0000ff"/>
<rect x="773" y="276" width="1" height="10" fill="#0000ff"/>
<rect x="772" y="277" width="3" height="9" fill="#0000ff"/>
<rect x="776" y="268" width="1" height="9" fill="#ff0000"/>
<rect x="775" y="269" width="3" height="4" fill="#ff0000"/>
<rect x="780" y="276" width="1" height="15" fill="#ff0000"/>
<rect x="779" y="276" width="3" height="11" fill="#ff0000"/>
<rect x="783" y="276" width="1" height="14" fill="#0000ff"/>
<rect x="782" y="276" width="3" height="13" fill="#0000ff"/>
<rect x="787" y="278" width="1" height="7" fill="#ff0000"/>
<rect x="786" y="278" width="3" height="6" fill="#ff0000"/>
<rect x="790" y="275" width="1" height="42" fill="#ff0000"/>
<rect x="789" y="277" width="3" height="34" fill="#ff0000"/>
<rect x="794" y="317" width="1" height="30" fill="#ff0000"/>
<rect x="793" y="318" width="3" height="21" fill="#ff0000"/>
<rect x="797" y="319" width="1" height="26" fill="#ff0000"/>
<rect x="796" y="331" width="3" height="13" fill="#ff0000"/>
<rect x="801" y="334" width="1" height="17" fill="#ff0000"/>
<rect x="800" y="342" width="3" height="2" fill="#ff0000"/>
<rect x="804" y="317" width="1" height="23" fill="#0000ff"/>
<rect x="803" y="332" width="3" height="6" fill="#0000ff"/>
<rect x="808" y="332" width="1" height="15" fill="#ff0000"/>
<rect x="807" y="337" width="3" height="2" fill="#ff0000"/>
<rect x="811" y="341" width="1" height="19" fill="#0000ff"/>
<rect x="810" y="344" width="3" height="5" fill="#0000ff"/>
<rect x="814" y="348" width="1" height="37" fill="#ff0000"/>
<rect x="813" y="348" width="3" height="32" fill="#ff0000"/>
<rect x="818" y="369" width="1" height="24" fill="#ff0000"/>
<rect x="817" y="381" width="3" height="3" fill="#ff0000"/>
<rect x="821" y="382" width="1" height="25" fill="#0000ff"/>
<rect x="820" y="384" width="3" height="7" fill="#0000ff"/>
<rect x="825" y="358" width="1" height="31" fill="#0000ff"/>
<rect x="824" y="363" width="3" height="20" fill="#0000ff"/>
<rect x="828" y="354" width="1" height="25" fill="#ff0000"/>
<rect x="827" y="358" width="3" height="17" fill="#ff0000"/>
<rect x="832" y="324" width="1" height="43" fill="#0000ff"/>
<rect x="831" y="333" width="3" height="34" fill="#0000ff"/>
<rect x="835" y="327" width="1" height="26" fill="#0000ff"/>
<rect x="834" y="331" width="3" height="2" fill="#0000ff"/>
<rect x="839" y="321" width="1" height="23" fill="#ff0000"/>
<rect x="838" y="330" width="3" height="10" fill="#ff0000"/>
<rect x="842" y="328" width="1" height="26" fill="#ff0000"/>
<rect x="841" y="330" width="3" height="24" fill="#ff0000"/>
<rect x="846" y="355" width="1" height="15" fill="#ff0000"/>
<rect x="845" y="358" width="3" height="12" fill="#ff0000"/>
<rect x="849" y="340" width="1" height="28" fill="#0000ff"/>
<rect x="848" y="341" width="3" height="22" fill="#0000ff"/>
<rect x="853" y="337" width="1" height="15" fill="#ff0000"/>
<rect x="852" y="341" width="3" height="10" fill="#ff0000"/>
<rect x="856" y="342" width="1" height="21" fill="#ff0000"/>
<rect x="855" y="344" width="3" height="12" fill="#ff0000"/>
<rect x="860" y="347" width="1" height="18" fill="#0000ff"/>
<rect x="859" y="348" width="3" height="13" fill="#0000ff"/>
<rect x="863" y="347" width="1" height="9" fill="#ff0000"/>
<rect x="862" y="349" width="3" height="5" fill="#ff0000"/>
<rect x="866" y="343" width="1" height="10" fill="#ff0000"/>
<rect x="865" y="347" width="3" height="6" fill="#ff0000"/>
<rect x="870" y="333" width="1" height="25" fill="#0000ff"/>
<rect x="869" y="333" width="3" height="21" fill="#0000ff"/>
<rect x="873" y="315" width="1" height="23" fill="#0000ff"/>
<rect x="872" y="318" width="3" height="19" fill="#0000ff"/>
<rect x="877" y="309" width="1" height="5" fill="#0000ff"/>
<rect x="876" y="310" width="3" height="2" fill="#0000ff"/>
<rect x="880" y="305" width="1" height="14" fill="#0000ff"/>
<rect x="879" y="305" width="3" height="5" fill="#0000ff"/>
<rect x="884" y="301" width="1" height="12" fill="#ff0000"/>
<rect x="883" y="301" width="3" height="11" fill="#ff0000"/>
<rect x="887" y="301" width="1" height="13" fill="#0000ff"/>
<rect x="886" y="302" width="3" height="12" fill="#0000ff"/>
<rect x="891" y="296" width="1" height="12" fill="#ff0000"/>
<rect x="890" y="296" width="3" height="8" fill="#ff0000"/>
<rect x="894" y="297" width="1" height="13" fill="#0000ff"/>
<rect x="893" y="301" width="3" height="3" fill="#0000ff"/>
<rect x="898" y="301" width="1" height="23" fill="#ff0000"/>
<rect x="897" y="302" width="3" height="14" fill="#ff0000"/>
<rect x="901" y="307" width="1" height="12" fill="#0000ff"/>
<rect x="900" y="315" width="3" height="2" fill="#0000ff"/>
<rect x="905" y="315" width="1" height="20" fill="#ff0000"/>
<rect x="904" y="315" width="3" height="18" fill="#ff0000"/>
<rect x="908" y="328" width="1" height="10" fill="#0000ff"/>
<rect x="907" y="332" width="3" height="2" fill="#0000ff"/>
<rect x="912" y="326" width="1" height="9" fill="#0000ff"/>
<rect x="911" y="330" width="3" height="3" fill="#0000ff"/>
<rect x="915" y="323" width="1" height="16" fill="#0000ff"/>
<rect x="914" y="324" width="3" height="10" fill="#0000ff"/>
<rect x="918" y="319" width="1" height="15" fill="#0000ff"/>
<rect x="917" y="321" width="3" height="8" fill="#0000ff"/>
</g>
<polyline points="19.0,391.0 20.9,389.5 27.9,382.5 36.4,377.7 45.0,370.7 50.4,364.3 54.7,359.5 61.1,350.9 69.7,341.8 73.4,339.9 80.4,331.1 89.3,317.9 99.3,296.0 103.0,286.5 107.1,276.4 110.0,268.5 112.9,260.7 115.7,255.7 120.0,250.5 125.7,244.3 131.4,235.0 137.9,231.4 145.7,225.7 150.0,225.3 154.3,227.0 157.1,228.6 165.7,231.4 171.4,232.6 177.1,236.4 184.3,242.1 190.0,244.5 196.0,245.5 200.0,244.7 204.0,244.0 208.0,243.5 219.0,243.5 222.0,245.0 225.0,247.0 228.0,249.0 231.4,250.7 248.6,259.3 258.2,265.0 266.8,271.4 275.4,281.1 280.7,288.0 283.9,295.0 289.3,306.8 298.9,324.5 302.1,330.0 307.1,337.9 317.1,346.4 325.7,354.3 334.3,362.9 344.3,370.0 352.9,378.6 358.6,382.9 364.3,384.7 371.4,385.7 382.9,385.0 385.0,384.6 390.0,382.8 395.0,380.5 403.6,374.3 411.1,370.5 418.6,365.7 425.0,360.9 431.4,355.0 441.1,348.0 451.8,340.5 460.7,335.4 469.3,328.3 477.9,321.4 486.4,312.9 493.6,307.9 502.1,303.6 509.3,300.3 515.0,300.3 520.0,300.7 532.9,301.7 547.1,299.3 558.6,296.4 567.1,296.9 574.3,299.3 585.7,300.7 600.0,301.4 614.3,300.4 625.7,301.0 639.3,299.6 650.7,293.6 660.7,286.0 672.1,283.6 682.1,282.9 693.6,280.4 705.0,280.4 716.4,279.6 727.9,278.1 737.9,274.3 746.4,273.6 767.1,273.6 778.6,275.7 790.0,276.0 798.6,282.9 808.6,289.3 818.6,298.6 828.6,309.3 841.4,314.3 850.0,319.3 864.3,325.0 877.1,325.3 885.0,324.3 890.0,322.1 894.3,321.4 900.7,320.4 905.7,321.4 911.4,322.1 918.5,322.3" fill="none" stroke="#8e1b1b" stroke-width="1" shape-rendering="crispEdges"/>
<g shape-rendering="crispEdges" fill="#000">
<rect x="18" y="22" width="910" height="1"/>
<rect x="18" y="525" width="910" height="1"/>
<rect x="18" y="22" width="1" height="504"/>
<rect x="927" y="22" width="1" height="504"/>
</g>
<rect x="19" y="28" width="52" height="15" fill="#fff"/>
<rect x="19" y="45" width="63" height="15" fill="#fff"/>
<g fill="#000">
<text x="18.1" y="15" font-size="16px" stroke-width="0.3" textLength="348.2" lengthAdjust="spacingAndGlyphs">Hang Seng China Ent Indx (HSCEI) 11039.8 <tspan fill="#0000d0">+3.44</tspan></text>
<text x="670.8" y="15" font-size="16px" stroke-width="0.3" textLength="148.5" lengthAdjust="spacingAndGlyphs">www.fullermoney.com</text>
<text x="840" y="15" font-size="16px" stroke-width="0.3" textLength="87" lengthAdjust="spacingAndGlyphs">20 Apr 2012</text>
<text x="931.5" y="530" font-size="14px">4000</text>
<text x="931.5" y="473" font-size="14px">6000</text>
<text x="931.5" y="415" font-size="14px">8000</text>
<text x="931.5" y="357" font-size="14px">10000</text>
<text x="931.5" y="300" font-size="14px">12000</text>
<text x="931.5" y="242" font-size="14px">14000</text>
<text x="931.5" y="184" font-size="14px">16000</text>
<text x="931.5" y="127" font-size="14px">18000</text>
<text x="931.5" y="69" font-size="14px">20000</text>
<text x="49.5" y="540" font-size="14px" text-anchor="middle">Jul</text>
<text x="94.5" y="540" font-size="14px" text-anchor="middle">Oct</text>
<text x="126.4" y="540" font-size="14px" textLength="31.5" lengthAdjust="spacingAndGlyphs">2008</text>
<text x="184.5" y="540" font-size="14px" text-anchor="middle">Apr</text>
<text x="229.5" y="540" font-size="14px" text-anchor="middle">Jul</text>
<text x="276.5" y="540" font-size="14px" text-anchor="middle">Oct</text>
<text x="307.4" y="540" font-size="14px" textLength="31.5" lengthAdjust="spacingAndGlyphs">2009</text>
<text x="365.5" y="540" font-size="14px" text-anchor="middle">Apr</text>
<text x="410.5" y="540" font-size="14px" text-anchor="middle">Jul</text>
<text x="457.5" y="540" font-size="14px" text-anchor="middle">Oct</text>
<text x="488.4" y="540" font-size="14px" textLength="31.5" lengthAdjust="spacingAndGlyphs">2010</text>
<text x="546.5" y="540" font-size="14px" text-anchor="middle">Apr</text>
<text x="591.5" y="540" font-size="14px" text-anchor="middle">Jul</text>
<text x="638.5" y="540" font-size="14px" text-anchor="middle">Oct</text>
<text x="669.4" y="540" font-size="14px" textLength="31.5" lengthAdjust="spacingAndGlyphs">2011</text>
<text x="727.5" y="540" font-size="14px" text-anchor="middle">Apr</text>
<text x="772.5" y="540" font-size="14px" text-anchor="middle">Jul</text>
<text x="819.5" y="540" font-size="14px" text-anchor="middle">Oct</text>
<text x="850.4" y="540" font-size="14px" textLength="31.5" lengthAdjust="spacingAndGlyphs">2012</text>
<text x="908.5" y="540" font-size="14px" text-anchor="middle">Apr</text>
</g>
<text x="21.8" y="40" font-size="14px" fill="#0000ee" stroke-width="0.1">Weekly</text>
<text x="22" y="57" font-size="14px" fill="#a50f0f" stroke-width="0.1">EMA 200</text>
<text x="790.5" y="555" font-size="9.4px" fill="#8a8a8a" stroke="none" textLength="136" lengthAdjust="spacing">© 2012 Stockcube Research Ltd</text>
</svg></body></html>
